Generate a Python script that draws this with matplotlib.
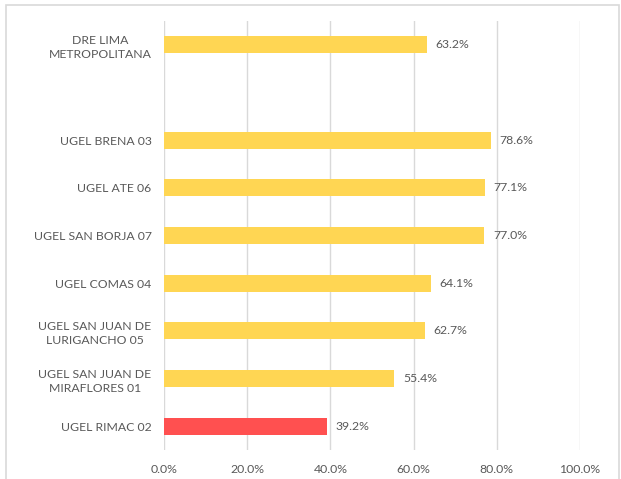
import matplotlib
matplotlib.use("Agg")
import matplotlib.pyplot as plt
from matplotlib.patches import Rectangle
import numpy as np

categories = ["DRE LIMA\nMETROPOLITANA", "", "UGEL BRENA 03", "UGEL ATE 06", "UGEL SAN BORJA 07",
              "UGEL COMAS 04", "UGEL SAN JUAN DE\nLURIGANCHO 05", "UGEL SAN JUAN DE\nMIRAFLORES 01",
              "UGEL RIMAC 02"]
values = [63.2, np.nan, 78.6, 77.1, 77.0, 64.1, 62.7, 55.4, 39.2]
colors = ["#FFD653", "#FFD653", "#FFD653", "#FFD653", "#FFD653", "#FFD653", "#FFD653", "#FFD653", "#FF5050"]
xticks = [0, 20, 40, 60, 80, 100]

plt.rcParams['font.family'] = ['Lato', 'DejaVu Sans']
W, H = 621, 479
fig = plt.figure(figsize=(W/100, H/100), dpi=100)
fig.patches.append(Rectangle((6/W, -0.01), 613/W, 1 - 5/H + 0.01, transform=fig.transFigure,
                             fill=False, edgecolor="#D9D9D9", linewidth=1.2))
ax = fig.add_axes([164/W, 1 - 450/H, (580-164)/W, (450-21)/H])
y = np.arange(len(categories))
vals = np.array(values, dtype=float)
ax.barh(y, np.nan_to_num(vals), height=0.35, color=colors, zorder=3)
for yi, v in zip(y, vals):
    if not np.isnan(v):
        ax.text(v + 2.1, yi, f"{v:.1f}%", va="center", ha="left", fontsize=8.8, color="#595959")
ax.set_ylim(len(categories) - 0.5, -0.5)
ax.set_xlim(0, 100)
ax.set_yticks(y)
ax.set_yticklabels(categories, fontsize=8.8, color="#595959", linespacing=1.4,
                   multialignment="center")
ax.set_xticks(xticks)
ax.set_xticklabels([f"{t:.1f}%" for t in xticks], fontsize=8.8, color="#595959")
ax.tick_params(axis="both", length=0)
ax.tick_params(axis="y", pad=9)
ax.tick_params(axis="x", pad=10)
ax.grid(axis="x", color="#D9D9D9", linewidth=1, zorder=0)
for s in ax.spines.values():
    s.set_visible(False)
fig.savefig("out.png", dpi=100)
